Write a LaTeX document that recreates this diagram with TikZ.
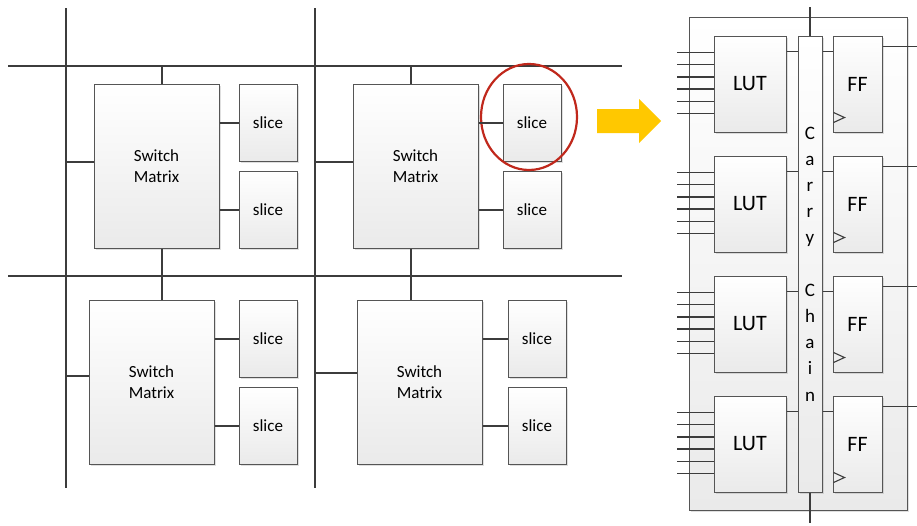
\documentclass[tikz,border=0pt]{standalone}
\usepackage{fontspec}
\setmainfont{Carlito}
\usepackage{tikz}
\usetikzlibrary{positioning,shadows}
\usepackage{xcolor}

\definecolor{wiregray}{HTML}{3C3C3C}
\definecolor{boxline}{HTML}{555555}
\definecolor{boxfill}{HTML}{EAEAEA}
\definecolor{ringred}{HTML}{C0281C}
\definecolor{arrowyellow}{HTML}{FFC800}

\begin{document}
\begin{tikzpicture}[
        x=1pt,
        y=-1pt,
        bus/.style={draw=wiregray, line width=2pt},
        link/.style={draw=wiregray, line width=2pt},
        pin/.style={draw=wiregray, line width=1.5pt},
        box/.style={
            rectangle,
            draw=boxline,
            line width=1pt,
            top color=white,
            bottom color=boxfill,
            drop shadow={opacity=0.25, shadow xshift=2pt, shadow yshift=-2pt},
            align=center,
            inner sep=0pt
        },
        switchbox/.style={box, minimum width=125pt, minimum height=164pt, font=\fontsize{17}{21}\selectfont},
        slicebox/.style={box, minimum width=58pt, minimum height=77pt, font=\fontsize{17}{21}\selectfont},
        lutbox/.style={box, minimum width=72pt, minimum height=96pt, font=\fontsize{22}{24}\selectfont},
        ffbox/.style={box, minimum width=49pt, minimum height=96pt, font=\fontsize{22}{24}\selectfont},
        chainbox/.style={box, minimum width=24pt, minimum height=456pt, font=\fontsize{19}{26.2}\selectfont},
        panel/.style={box, minimum width=218pt, minimum height=493pt},
        ring/.style={draw=ringred, line width=2.2pt}
    ]

    \useasboundingbox (0,0) rectangle (917,525);

    % LEFT: ROUTING GRID
    \coordinate (v1a) at (66,8);
    \coordinate (v1b) at (66,488);
    \coordinate (v2a) at (315,8);
    \coordinate (v2b) at (315,488);
    \coordinate (h1a) at (8,66);
    \coordinate (h1b) at (622,66);
    \coordinate (h2a) at (8,276);
    \coordinate (h2b) at (622,276);
    \coordinate (c1) at (162,0);
    \coordinate (c2) at (411,0);

    \draw[bus] (v1a) -- (v1b);
    \draw[bus] (v2a) -- (v2b);
    \draw[bus] (h1a) -- (h1b);
    \draw[bus] (h2a) -- (h2b);

    % TILES: switch matrix + two slices
    \node[switchbox] (sw1) at (156.5,166) {Switch\\Matrix};
    \node[slicebox, right=19pt of sw1.north east, anchor=north west] (sl1) {slice};
    \node[slicebox, below=9pt of sl1] (sl2) {slice};

    \node[switchbox] (sw2) at (415.5,166) {Switch\\Matrix};
    \node[slicebox, right=24pt of sw2.north east, anchor=north west] (sl3) {slice};
    \node[slicebox, below=9pt of sl3] (sl4) {slice};

    \node[switchbox] (sw3) at (151.5,382) {Switch\\Matrix};
    \node[slicebox, right=24pt of sw3.north east, anchor=north west] (sl5) {slice};
    \node[slicebox, below=9pt of sl5] (sl6) {slice};

    \node[switchbox] (sw4) at (419.5,382) {Switch\\Matrix};
    \node[slicebox, right=25pt of sw4.north east, anchor=north west] (sl7) {slice};
    \node[slicebox, below=9pt of sl7] (sl8) {slice};

    % highlighted slice
    \draw[ring] (529,117) ellipse [x radius=48pt, y radius=53pt];

    % ============================================================
    % CONNECTIONS: grid to switch matrices
    % ============================================================
    \draw[link] (c1 |- h1a) -- (c1 |- sw1.north);
    \draw[link] (c1 |- sw1.south) -- (c1 |- sw3.north);
    \draw[link] (c2 |- h1a) -- (c2 |- sw2.north);
    \draw[link] (c2 |- sw2.south) -- (c2 |- sw4.north);

    \draw[link] ([yshift=4pt]sw1.west -| v1a) -- ([yshift=4pt]sw1.west);
    \draw[link] ([yshift=4pt]sw2.west -| v2a) -- ([yshift=4pt]sw2.west);
    \draw[link] ([yshift=6pt]sw3.west -| v1a) -- ([yshift=6pt]sw3.west);
    \draw[link] ([yshift=9pt]sw4.west -| v2a) -- ([yshift=9pt]sw4.west);

    % ============================================================
    % CONNECTIONS: switch matrices to slices
    % ============================================================
    \draw[link] (sl1.west -| sw1.east) -- (sl1.west);
    \draw[link] (sl2.west -| sw1.east) -- (sl2.west);
    \draw[link] (sl3.west -| sw2.east) -- (sl3.west);
    \draw[link] (sl4.west -| sw2.east) -- (sl4.west);
    \draw[link] (sl5.west -| sw3.east) -- (sl5.west);
    \draw[link] (sl6.west -| sw3.east) -- (sl6.west);
    \draw[link] (sl7.west -| sw4.east) -- (sl7.west);
    \draw[link] (sl8.west -| sw4.east) -- (sl8.west);

    % ARROW TO DETAIL
    \fill[arrowyellow] (597,109) -- (639,109) -- (639,99) -- (661,121)
        -- (639,143) -- (639,133) -- (597,133) -- cycle;

    % RIGHT: SLICE DETAIL
    \node[panel] (clb) at (798,263.5) {};
    \node[chainbox] (chain) at (810,264) {C\\a\\r\\r\\y\\[26.2pt]C\\h\\a\\i\\n};

    \node[lutbox] (lut1) at (750,84) {LUT};
    \node[lutbox] (lut2) at (750,204) {LUT};
    \node[lutbox] (lut3) at (750,324) {LUT};
    \node[lutbox] (lut4) at (750,444) {LUT};

    \node[ffbox] (ff1) at (857.5,84) {FF};
    \node[ffbox] (ff2) at (857.5,204) {FF};
    \node[ffbox] (ff3) at (857.5,324) {FF};
    \node[ffbox] (ff4) at (857.5,444) {FF};

    \coordinate (inx) at (677,0);
    \coordinate (outx) at (917,0);
    \coordinate (cin) at (810,7);
    \coordinate (cout) at (810,523);

    % ============================================================
    % CONNECTIONS: carry chain, LUTs and FFs
    % ============================================================
    \draw[pin] (cin) -- (chain.north);
    \draw[pin] (chain.south) -- (cout);

    \foreach \l in {lut1,lut2,lut3,lut4}
        \foreach \d in {17,29.2,...,78}
            \draw[pin] ([yshift=-\d pt]\l.north west -| inx) -- ([yshift=-\d pt]\l.north west);

    \draw[pin] ([yshift=-16pt]lut1.north east) -- ([yshift=-16pt]lut1.north east -| chain.west);
    \draw[pin] ([yshift=-16pt]lut2.north east) -- ([yshift=-16pt]lut2.north east -| chain.west);
    \draw[pin] ([yshift=-16pt]lut3.north east) -- ([yshift=-16pt]lut3.north east -| chain.west);
    \draw[pin] ([yshift=-16pt]lut4.north east) -- ([yshift=-16pt]lut4.north east -| chain.west);

    \draw[pin] ([yshift=-16pt]ff1.north west -| chain.east) -- ([yshift=-16pt]ff1.north west);
    \draw[pin] ([yshift=-16pt]ff2.north west -| chain.east) -- ([yshift=-16pt]ff2.north west);
    \draw[pin] ([yshift=-16pt]ff3.north west -| chain.east) -- ([yshift=-16pt]ff3.north west);
    \draw[pin] ([yshift=-16pt]ff4.north west -| chain.east) -- ([yshift=-16pt]ff4.north west);

    \draw[pin] ([yshift=-11pt]ff1.north east) -- ([yshift=-11pt]ff1.north east -| outx);
    \draw[pin] ([yshift=-11pt]ff2.north east) -- ([yshift=-11pt]ff2.north east -| outx);
    \draw[pin] ([yshift=-11pt]ff3.north east) -- ([yshift=-11pt]ff3.north east -| outx);
    \draw[pin] ([yshift=-11pt]ff4.north east) -- ([yshift=-11pt]ff4.north east -| outx);

    % clock marks
    \foreach \f in {ff1,ff2,ff3,ff4}
        \draw[pin, line width=1.1pt] ([shift={(1pt,20pt)}]\f.south west) -- ++(11pt,-5pt) -- ++(-11pt,-5pt);

\end{tikzpicture}
\end{document}
